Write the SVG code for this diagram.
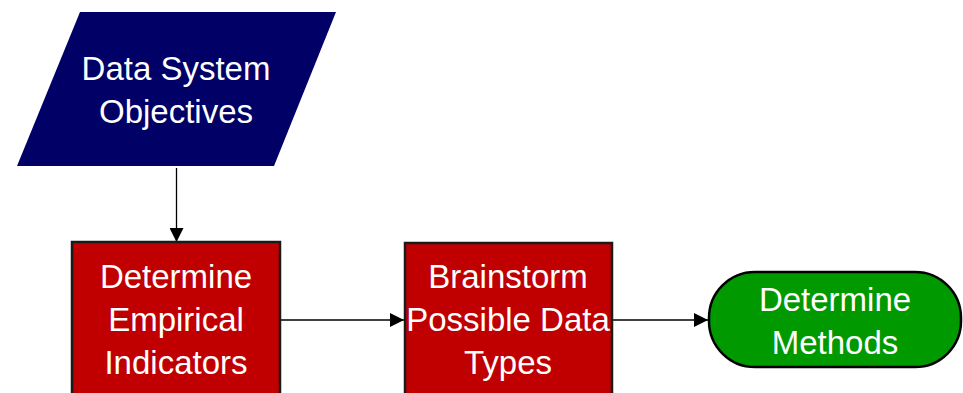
<svg xmlns="http://www.w3.org/2000/svg" width="963" height="393" viewBox="0 0 963 393">
<style>
.lbl{font-family:"Liberation Sans",Arial,sans-serif;font-size:33px;fill:#ffffff;text-anchor:middle}
.proc{fill:#c00000;stroke:#1a1a1a;stroke-width:2.5}
.conn{stroke:#000;stroke-width:1.3;fill:none;marker-end:url(#ah)}
</style>
<defs>
<marker id="ah" viewBox="0 0 10 10" refX="10" refY="5" markerWidth="16" markerHeight="14" markerUnits="userSpaceOnUse" orient="auto">
<path d="M0,0 L10,5 L0,10 z" fill="#000"/>
</marker>
</defs>
<g id="connectors">
<line class="conn" x1="176.5" y1="168" x2="176.5" y2="242"/>
<line class="conn" x1="281" y1="320" x2="404" y2="320"/>
<line class="conn" x1="613" y1="320" x2="708" y2="320"/>
</g>
<g id="objectives">
<polygon points="80,12 336,12 274,166 17,166" fill="#000066"/>
<text class="lbl" x="176" y="80">Data System</text>
<text class="lbl" x="176" y="123">Objectives</text>
</g>
<g id="indicators">
<rect class="proc" x="72" y="242" width="208" height="160"/>
<text class="lbl" x="176" y="288">Determine</text>
<text class="lbl" x="176" y="331">Empirical</text>
<text class="lbl" x="176" y="374">Indicators</text>
</g>
<g id="brainstorm">
<rect class="proc" x="405" y="243" width="207" height="160"/>
<text class="lbl" x="508" y="288">Brainstorm</text>
<text class="lbl" x="508" y="331">Possible Data</text>
<text class="lbl" x="508" y="374">Types</text>
</g>
<g id="methods">
<rect x="709" y="272" width="252" height="95" rx="46" ry="46" fill="#009900" stroke="#000" stroke-width="2.5"/>
<text class="lbl" x="835" y="311">Determine</text>
<text class="lbl" x="835" y="354">Methods</text>
</g>
</svg>
